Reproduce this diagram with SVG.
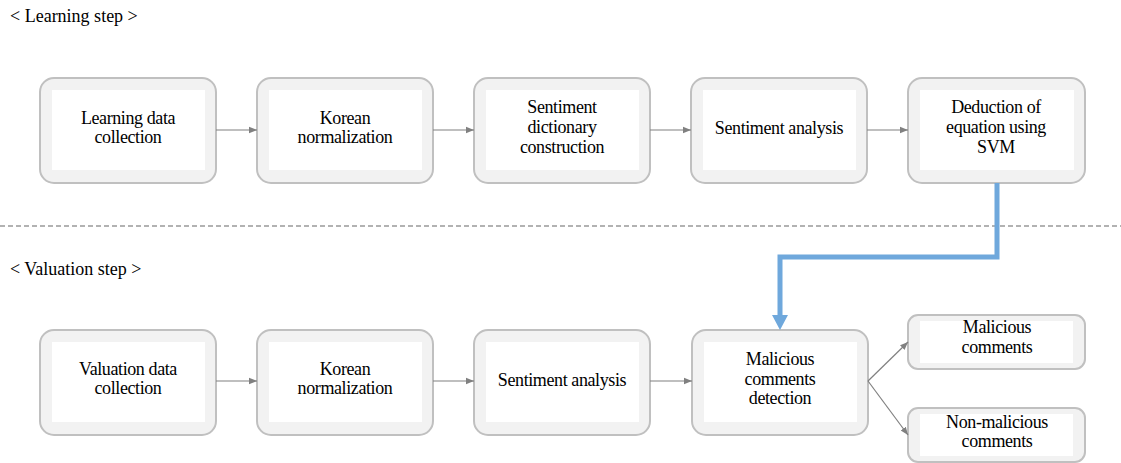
<svg xmlns="http://www.w3.org/2000/svg" width="1121" height="463" viewBox="0 0 1121 463" font-family="Liberation Serif">
<style>
.o{fill:#f2f2f2;stroke:#c0c0c0;stroke-width:2}
.i{fill:#ffffff}
.t{font-size:18px;fill:#000;text-anchor:middle;letter-spacing:-0.4px}
.h{font-size:18px;fill:#000}
.c{stroke:#808080;stroke-width:1.2;fill:none;marker-end:url(#ah)}
</style>
<defs>
<marker id="ah" viewBox="0 0 10 10" refX="10" refY="5" markerWidth="8" markerHeight="8" markerUnits="userSpaceOnUse" orient="auto">
<path d="M0,1 L10,5 L0,9 Z" fill="#808080"/>
</marker>
</defs>
<rect width="1121" height="463" fill="#fff"/>
<text class="h" x="10" y="22">&lt; Learning step &gt;</text>
<text class="h" x="10" y="275">&lt; Valuation step &gt;</text>
<line x1="0" y1="226" x2="1121" y2="226" stroke="#999" stroke-width="1.5" stroke-dasharray="5,3"/>

<g id="n1"><rect class="o" x="40" y="78" width="176" height="105" rx="14"/><rect class="i" x="52" y="90" width="153" height="80"/>
<text class="t" x="128" y="124">Learning data</text><text class="t" x="128" y="143">collection</text></g>
<g id="n2"><rect class="o" x="257" y="78" width="176" height="105" rx="14"/><rect class="i" x="269" y="90" width="153" height="80"/>
<text class="t" x="345" y="124">Korean</text><text class="t" x="345" y="143">normalization</text></g>
<g id="n3"><rect class="o" x="474" y="78" width="176" height="105" rx="14"/><rect class="i" x="486" y="90" width="153" height="80"/>
<text class="t" x="562" y="113">Sentiment</text><text class="t" x="562" y="133">dictionary</text><text class="t" x="562" y="153">construction</text></g>
<g id="n4"><rect class="o" x="691" y="78" width="176" height="105" rx="14"/><rect class="i" x="703" y="90" width="153" height="80"/>
<text class="t" x="779" y="134">Sentiment analysis</text></g>
<g id="n5"><rect class="o" x="908" y="78" width="177" height="105" rx="14"/><rect class="i" x="920" y="90" width="154" height="80"/>
<text class="t" x="996" y="113">Deduction of</text><text class="t" x="996" y="133">equation using</text><text class="t" x="996" y="153">SVM</text></g>

<g id="m1"><rect class="o" x="40" y="330" width="176" height="105" rx="14"/><rect class="i" x="52" y="342" width="153" height="80"/>
<text class="t" x="128" y="375">Valuation data</text><text class="t" x="128" y="394">collection</text></g>
<g id="m2"><rect class="o" x="257" y="330" width="176" height="105" rx="14"/><rect class="i" x="269" y="342" width="153" height="80"/>
<text class="t" x="345" y="375">Korean</text><text class="t" x="345" y="394">normalization</text></g>
<g id="m3"><rect class="o" x="474" y="330" width="176" height="105" rx="14"/><rect class="i" x="486" y="342" width="153" height="80"/>
<text class="t" x="562" y="386">Sentiment analysis</text></g>
<g id="m4"><rect class="o" x="692" y="330" width="176" height="105" rx="14"/><rect class="i" x="704" y="342" width="153" height="80"/>
<text class="t" x="780" y="365">Malicious</text><text class="t" x="780" y="385">comments</text><text class="t" x="780" y="404">detection</text></g>
<g id="r1"><rect class="o" x="908" y="315" width="177" height="54" rx="10"/><rect class="i" x="920" y="321" width="153" height="42"/>
<text class="t" x="997" y="333">Malicious</text><text class="t" x="997" y="353">comments</text></g>
<g id="r2"><rect class="o" x="908" y="408" width="177" height="54" rx="10"/><rect class="i" x="920" y="414" width="153" height="42"/>
<text class="t" x="997" y="428">Non-malicious</text><text class="t" x="997" y="447">comments</text></g>

<g id="connectors">
<line class="c" x1="216" y1="130" x2="257" y2="130"/>
<line class="c" x1="433" y1="130" x2="474" y2="130"/>
<line class="c" x1="650" y1="130" x2="691" y2="130"/>
<line class="c" x1="867" y1="130" x2="908" y2="130"/>
<line class="c" x1="216" y1="381" x2="257" y2="381"/>
<line class="c" x1="433" y1="381" x2="474" y2="381"/>
<line class="c" x1="650" y1="381" x2="692" y2="381"/>
<line class="c" x1="868" y1="381" x2="908" y2="342"/>
<line class="c" x1="868" y1="381" x2="908" y2="435"/>
<polyline points="997,183 997,257 780,257 780,316" fill="none" stroke="#6fa8dc" stroke-width="5"/>
<path d="M772,315 L788,315 L780,330 Z" fill="#6fa8dc"/>
</g>
</svg>
